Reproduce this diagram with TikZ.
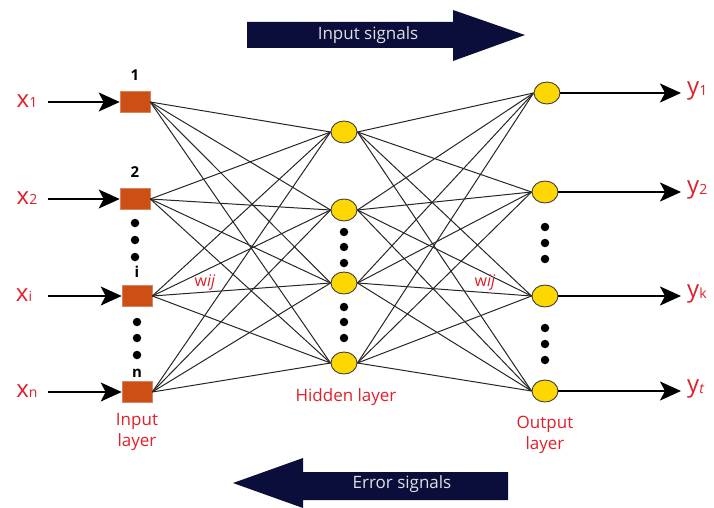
\documentclass[tikz,border=0pt]{standalone}
\usepackage{fontspec}
\setmainfont{Open Sans}
\usetikzlibrary{arrows.meta,shapes.geometric}
\definecolor{sqcol}{HTML}{CC5016}
\definecolor{neucol}{HTML}{FFD700}
\definecolor{navy}{HTML}{0B0E3A}
\definecolor{lblred}{HTML}{E0202A}
\begin{document}
\begin{tikzpicture}[x=1pt,y=-1pt,
  insq/.style={rectangle,fill=sqcol,draw=sqcol!70!white,line width=0.6pt,minimum width=30pt,minimum height=21pt,inner sep=0pt},
  neuron/.style={ellipse,fill=neucol,draw=black!75,line width=0.9pt,minimum width=26pt,minimum height=22pt,inner sep=0pt},
  conn/.style={draw=black!85,line width=1pt},
  bigarr/.style={draw=black,line width=2pt,-{Stealth[length=21pt,width=19pt,inset=5pt]}},
  dot/.style={circle,fill=black,minimum size=8.5pt,inner sep=0pt},
  var/.style={text=lblred,font=\fontsize{24}{26}\selectfont,inner sep=0pt},
  idx/.style={font=\bfseries\fontsize{15}{17}\selectfont,inner sep=0pt},
  layer/.style={text=lblred,font=\fontsize{17}{21}\selectfont,align=center,inner sep=0pt},
  wlab/.style={text=lblred,font=\fontsize{16}{17}\selectfont,inner sep=0pt},
  sigtext/.style={text=white!88!black,font=\fontsize{17}{18}\selectfont,inner sep=0pt}
]
\useasboundingbox (0,0) rectangle (714,508);

% signal arrows
\fill[navy] (247,22) -- (453,22) -- (453,10) -- (525,35) -- (453,61) -- (453,48) -- (247,48) -- cycle;
\node[sigtext] (insig) at (368,35) {Input signals};
\fill[navy] (508,472) -- (303,472) -- (303,458) -- (233,483) -- (303,508) -- (303,500) -- (508,500) -- cycle;
\node[sigtext] (errsig) at (402,484) {Error signals};

% input layer
\node[insq] (i1) at (135,102) {};
\node[insq] (i2) at (135,199) {};
\node[insq] (i3) at (137,296) {};
\node[insq] (i4) at (137,392) {};
\node[idx] (n1) at (135,75) {1};
\node[idx] (n2) at (135,172) {2};
\node[idx] (n3) at (137,272) {i};
\node[idx] (n4) at (137,373) {n};
\foreach \yy [count=\k] in {223,240,257} \node[dot] (da\k) at (135,\yy) {};
\foreach \yy [count=\k] in {322,338,355} \node[dot] (db\k) at (137,\yy) {};

% hidden layer
\node[neuron] (h1) at (344,132) {};
\node[neuron] (h2) at (344,210) {};
\node[neuron] (h3) at (344,283) {};
\node[neuron] (h4) at (344,363) {};
\foreach \yy [count=\k] in {232,247,263} \node[dot] (dc\k) at (344,\yy) {};
\foreach \yy [count=\k] in {307,322,338} \node[dot] (dd\k) at (344,\yy) {};

% output layer
\node[neuron] (o1) at (547,93) {};
\node[neuron] (o2) at (545,192) {};
\node[neuron] (o3) at (545,296) {};
\node[neuron] (o4) at (545,391) {};
\foreach \yy [count=\k] in {227,243,259} \node[dot] (de\k) at (545,\yy) {};
\foreach \yy [count=\k] in {328,344,360} \node[dot] (df\k) at (545,\yy) {};

% connections
\foreach \a in {1,...,4} \foreach \b in {1,...,4} \draw[conn] (i\a.east) -- (h\b.west);
\foreach \a in {1,...,4} \foreach \b in {1,...,4} \draw[conn] (h\a.east) -- (o\b.west);

% input labels and arrows
\node[var] (x1) at (27,101) {x\raisebox{-0.5pt}{\fontsize{14}{15}\selectfont 1}};
\node[var] (x2) at (27,198) {x\raisebox{-0.5pt}{\fontsize{14}{15}\selectfont 2}};
\node[var] (x3) at (24,295) {x\raisebox{-0.5pt}{\fontsize{14}{15}\selectfont i}};
\node[var] (x4) at (27,391) {x\raisebox{-0.5pt}{\fontsize{14}{15}\selectfont n}};
\coordinate (s1) at (48,102);
\coordinate (s2) at (48,199);
\coordinate (s3) at (48,296);
\coordinate (s4) at (48,392);
\foreach \k in {1,...,4} \draw[bigarr] (s\k) -- (i\k.west);

% output labels and arrows
\coordinate (t1) at (681,93);
\coordinate (t2) at (681,192);
\coordinate (t3) at (681,296);
\coordinate (t4) at (681,391);
\foreach \k in {1,...,4} \draw[bigarr] (o\k.east) -- (t\k);
\node[var,anchor=west] (y1) at (687,91) {y\raisebox{-0.5pt}{\fontsize{14}{15}\selectfont 1}};
\node[var,anchor=west] (y2) at (687,190) {y\raisebox{-0.5pt}{\fontsize{14}{15}\selectfont 2}};
\node[var,anchor=west] (y3) at (687,294) {y\raisebox{-0.5pt}{\fontsize{14}{15}\selectfont k}};
\node[var,anchor=west] (y4) at (687,389) {y\raisebox{-0.5pt}{\fontsize{14}{15}\selectfont\itshape t}};

% weight labels
\node[wlab] (w1) at (205,283) {w\textit{ij}};
\node[wlab] (w2) at (485,283) {w\textit{ij}};

% layer labels
\node[layer] (lin) at (137,432) {Input\\layer};
\node[layer] (lhid) at (346,397) {Hidden layer};
\node[layer] (lout) at (545,435) {Output\\layer};
\end{tikzpicture}
\end{document}
